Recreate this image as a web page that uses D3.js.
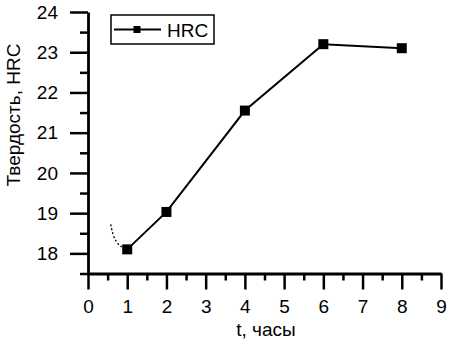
<!DOCTYPE html>
<html><head><meta charset="utf-8">
<script src="https://cdn.jsdelivr.net/npm/d3@7"></script>
<style>body{margin:0;background:#fff}svg{display:block}text{font-family:"Liberation Sans",Arial,sans-serif;fill:#000}</style>
</head><body>
<script>
const hours = [1, 2, 4, 6, 8];
const hardness = [18.1, 19.03, 21.55, 23.2, 23.1];
const trendX = [0.58, 0.63, 0.72, 0.84, 1.0];
const trendY = [18.72, 18.47, 18.28, 18.16, 18.1];
const xTickValues = [0,1,2,3,4,5,6,7,8,9];
const yTickValues = [18,19,20,21,22,23,24];
const seriesName = "HRC";
const xTitle = "t, часы";
const yTitle = "Твердость, HRC";

const W = 450, H = 345;
const svg = d3.select("body").append("svg").attr("width", W).attr("height", H);
const x = d3.scaleLinear().domain([0, 9]).range([88, 441]);
const y = d3.scaleLinear().domain([17.5, 24]).range([273.5, 12]);
const fs = 19;

// minor ticks
svg.append("g").attr("transform", `translate(0,${y(17.5)})`)
  .call(d3.axisBottom(x).tickValues(d3.range(0.5, 9, 1)).tickSize(7).tickFormat(""))
  .call(g => g.select(".domain").remove())
  .call(g => g.selectAll("line").attr("stroke-width", 2.5));
svg.append("g").attr("transform", `translate(${x(0)},0)`)
  .call(d3.axisLeft(y).tickValues(d3.range(17.5, 24, 1)).tickSize(8).tickFormat(""))
  .call(g => g.select(".domain").remove())
  .call(g => g.selectAll("line").attr("stroke-width", 2.5));

// major axes
const gx = svg.append("g").attr("transform", `translate(0,${y(17.5)})`)
  .call(d3.axisBottom(x).tickValues(xTickValues).tickSize(16).tickSizeOuter(0).tickPadding(10).tickFormat(d3.format("d")));
gx.select(".domain").attr("stroke-width", 2.8);
gx.selectAll("line").attr("stroke-width", 2.5);
gx.selectAll("text").attr("font-size", fs).attr("font-family", "Liberation Sans, Arial, sans-serif");

const gy = svg.append("g").attr("transform", `translate(${x(0)},0)`)
  .call(d3.axisLeft(y).tickValues(yTickValues).tickSize(18).tickSizeOuter(0).tickPadding(12).tickFormat(d3.format("d")));
gy.select(".domain").attr("stroke-width", 2.8);
gy.selectAll("line").attr("stroke-width", 2.5);
gy.selectAll("text").attr("font-size", fs).attr("font-family", "Liberation Sans, Arial, sans-serif");

// titles
svg.append("text").attr("x", 266).attr("y", 336).attr("text-anchor", "middle").attr("font-size", fs).text(xTitle);
svg.append("text").attr("transform", "translate(20,115) rotate(-90)").attr("text-anchor", "middle").attr("font-size", fs).text(yTitle);

// dotted trend
svg.append("path").datum(d3.zip(trendX, trendY))
  .attr("d", d3.line().x(d => x(d[0])).y(d => y(d[1])).curve(d3.curveBasis))
  .attr("fill", "none").attr("stroke", "#000").attr("stroke-width", 1.3).attr("stroke-dasharray", "2,2");

// series
const pts = d3.zip(hours, hardness);
svg.append("path").datum(pts)
  .attr("d", d3.line().x(d => x(d[0])).y(d => y(d[1])))
  .attr("fill", "none").attr("stroke", "#000").attr("stroke-width", 2);
const ms = 10;
svg.selectAll("rect.pt").data(pts).join("rect").attr("class", "pt")
  .attr("x", d => x(d[0]) - ms/2).attr("y", d => y(d[1]) - ms/2)
  .attr("width", ms).attr("height", ms).attr("fill", "#000");

// legend
const lg = svg.append("g");
lg.append("rect").attr("x", 111).attr("y", 15).attr("width", 103).attr("height", 29)
  .attr("fill", "#fff").attr("stroke", "#000").attr("stroke-width", 1.5);
lg.append("line").attr("x1", 114).attr("x2", 161).attr("y1", 29.5).attr("y2", 29.5)
  .attr("stroke", "#000").attr("stroke-width", 2);
lg.append("rect").attr("x", 133.5).attr("y", 26).attr("width", 7).attr("height", 7).attr("fill", "#000");
lg.append("text").attr("x", 167).attr("y", 36.5).attr("font-size", fs).text(seriesName);
</script>
</body></html>
